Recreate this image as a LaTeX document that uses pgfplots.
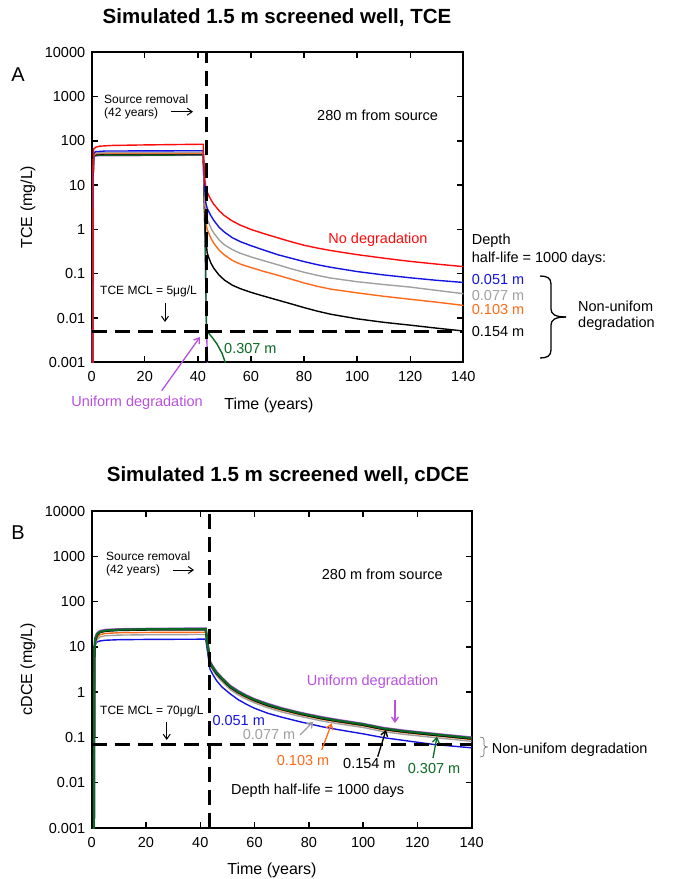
\documentclass[border=0pt]{standalone}
\usepackage{fontspec}
\setmainfont{Liberation Sans}
\usepackage{pgfplots}
\pgfplotsset{compat=1.18}
\usetikzlibrary{arrows.meta}

\definecolor{cred}{RGB}{255,10,10}
\definecolor{cblue}{RGB}{20,20,225}
\definecolor{cgray}{RGB}{160,160,160}
\definecolor{corange}{RGB}{255,105,25}
\definecolor{cgreen}{RGB}{10,105,35}
\definecolor{cpurple}{RGB}{185,80,225}

\newcommand\ft{\bfseries\fontsize{20.5}{24}\selectfont}
\newcommand\fp{\fontsize{20}{24}\selectfont}
\newcommand\fl{\fontsize{16}{19}\selectfont}
\newcommand\fa{\fontsize{14.5}{17}\selectfont}
\newcommand\fs{\fontsize{12}{14}\selectfont}

\tikzset{
  lthin/.style={line width=1.4pt},
  lfat/.style={line width=2.2pt},
  mcl/.style={line width=3pt, dash pattern=on 15pt off 8pt, black},
}
\pgfplotsset{
  myaxis/.style={
    scale only axis, anchor=south west,
    xmin=0, xmax=140, ymin=0.001, ymax=10000,
    xtick={0,20,40,60,80,100,120,140},
    xticklabels={0,20,40,60,80,100,120,140},
    ytick={0.001,0.01,0.1,1,10,100,1000,10000},
    yticklabels={0.001,0.01,0.1,1,10,100,1000,10000},
    yminorticks=false, tick align=inside, major tick length=6pt,
    axis line style={line width=2pt},
    every tick/.style={black, line width=1.4pt},
    tick label style={font=\fa},
    yticklabel style={xshift=-3pt},
    xticklabel style={yshift=-6pt},
  },
}

\begin{document}
\begin{tikzpicture}
\path[use as bounding box] (0,0) rectangle (676pt,-879pt);

% ---------- panel A: TCE ----------
\begin{axis}[ymode=log, myaxis, at={(91.7pt,-362.3pt)}, width=371.6pt, height=310pt]
\addplot[cpurple, lthin] coordinates {(0,1e-4) (0.35,1e-3) (0.5,10) (0.7,40) (1,46) (42,47.5) (42.3,10) (42.8,0.3) (43.2,0.006) (43.5,0.002) (43.7,0.0005)};
\addplot[cgreen, lthin] coordinates {(0,1e-4) (0.35,1e-3) (0.5,10) (0.7,40) (1,46) (3,47.5) (42,48) (42.3,10) (42.8,0.3) (43.1,0.02) (43.3,0.0052) (44,0.0046) (45.3,0.0037) (47.2,0.0026) (49.1,0.0016) (50.3,0.001) (51,0.0007)};
\addplot[black, lthin] coordinates {(0,1e-4) (0.35,1e-3) (0.5,12) (0.8,45) (1.5,49) (5,50.5) (42,51) (42.2,20) (42.6,2) (43,0.6) (43.5,0.3) (44,0.24) (45,0.17) (46,0.133) (48,0.093) (50,0.072) (53,0.055) (56,0.046) (60,0.038) (65,0.031) (70,0.0255) (75,0.021) (80,0.0172) (85,0.0143) (90,0.0122) (100,0.0096) (110,0.008) (120,0.0069) (130,0.0059) (140,0.0051)};
\addplot[corange, lthin] coordinates {(0,1e-4) (0.35,1e-3) (0.5,13) (0.8,47) (1.5,51) (5,52.5) (42,53) (42.2,25) (42.6,4) (43,1.5) (43.5,1.0) (44,0.85) (45,0.62) (46,0.49) (48,0.34) (50,0.265) (53,0.2) (56,0.165) (60,0.138) (65,0.112) (70,0.093) (75,0.076) (80,0.062) (85,0.052) (90,0.045) (100,0.037) (110,0.031) (120,0.0265) (130,0.0228) (140,0.0193)};
\addplot[cgray, lthin] coordinates {(0,1e-4) (0.35,1e-3) (0.5,14) (0.8,49) (1.5,53) (5,54.5) (42,55) (42.2,28) (42.6,6) (43,2.3) (43.5,1.7) (44,1.45) (45,1.05) (46,0.83) (48,0.58) (50,0.45) (53,0.35) (56,0.29) (60,0.24) (65,0.195) (70,0.16) (75,0.13) (80,0.108) (85,0.092) (90,0.08) (100,0.066) (110,0.057) (120,0.05) (130,0.042) (140,0.0355)};
\addplot[cblue, lthin] coordinates {(0,1e-4) (0.35,1e-3) (0.5,15) (0.8,53) (1.5,57) (5,59) (42,60) (42.2,30) (42.6,8) (43,4) (43.5,3.0) (44,2.6) (45,2.0) (46,1.6) (48,1.12) (50,0.87) (53,0.65) (56,0.53) (60,0.43) (65,0.34) (70,0.27) (75,0.225) (80,0.188) (85,0.16) (90,0.14) (100,0.112) (110,0.094) (120,0.081) (130,0.071) (140,0.0636)};
\addplot[cred, lthin] coordinates {(0,1e-4) (0.35,1e-3) (0.5,20) (0.8,66) (1.5,72) (3,76) (8,79) (20,81) (42,84) (42.2,40) (42.5,15) (43,9) (43.5,7.1) (44,6.0) (45,4.6) (46,3.7) (48,2.65) (50,2.05) (53,1.55) (56,1.25) (60,1.0) (65,0.8) (70,0.65) (75,0.53) (80,0.44) (85,0.38) (90,0.335) (100,0.27) (110,0.225) (120,0.19) (130,0.165) (140,0.145)};
\addplot[mcl] coordinates {(43.3,0.001) (43.3,10000)};
\addplot[mcl] coordinates {(0,0.005) (140,0.005)};
\end{axis}

% ---------- panel B: cDCE ----------
\begin{axis}[ymode=log, myaxis, at={(91.7pt,-828pt)}, width=380pt, height=317pt]
\addplot[cpurple, lfat] coordinates {(0,1e-4) (0.8,1e-3) (1.0,8.5) (1.3,16) (2,20) (3,22.5) (5,23.8) (10,24.6) (20,25) (42,25.5) (43.6,4.7) (44.7,3.65) (46,2.8) (48,2.07) (51,1.39) (54,1.06) (57,0.85) (60,0.7) (65,0.55) (70,0.445) (77,0.35) (85,0.28) (91,0.243) (100,0.2) (107.5,0.163) (115,0.142) (126,0.121) (140,0.1)};
\addplot[cblue, lthin] coordinates {(0,1e-4) (0.8,1e-3) (1.0,9.5) (1.5,12) (2,12.8) (3,13.5) (5,14) (10,14.4) (20,14.6) (42,14.8) (43.6,3.2) (44.7,2.4) (46,1.8) (48,1.3) (51,0.92) (54,0.68) (57,0.54) (60,0.44) (65,0.34) (70,0.28) (77,0.22) (85,0.172) (91,0.148) (100,0.12) (107.5,0.099) (115,0.086) (126,0.07) (140,0.059)};
\addplot[cgray, lthin] coordinates {(0,1e-4) (0.8,1e-3) (1.0,6) (1.3,11) (2,14.5) (3,16.5) (5,17.6) (10,18.2) (20,18.5) (42,18.8) (43.6,3.9) (44.7,3.0) (46,2.3) (48,1.7) (51,1.14) (54,0.87) (57,0.7) (60,0.58) (65,0.45) (70,0.365) (77,0.29) (85,0.23) (91,0.2) (100,0.166) (107.5,0.134) (115,0.117) (126,0.1) (140,0.082)};
\addplot[corange, lthin] coordinates {(0,1e-4) (0.8,1e-3) (1.0,6.5) (1.3,12) (2,16) (3,18.5) (5,19.8) (10,20.5) (20,20.8) (42,21) (43.6,4.2) (44.7,3.25) (46,2.5) (48,1.86) (51,1.25) (54,0.95) (57,0.76) (60,0.63) (65,0.49) (70,0.4) (77,0.316) (85,0.251) (91,0.219) (100,0.181) (107.5,0.147) (115,0.128) (126,0.11) (140,0.09)};
\addplot[black, lfat] coordinates {(0,1e-4) (0.8,1e-3) (1.0,7.5) (1.3,14) (2,18.5) (3,21) (5,22.5) (10,23.5) (20,24) (42,24.3) (43.6,4.35) (44.7,3.4) (46,2.6) (48,1.94) (51,1.3) (54,0.99) (57,0.8) (60,0.66) (65,0.51) (70,0.42) (77,0.33) (85,0.262) (91,0.228) (100,0.189) (107.5,0.153) (115,0.134) (126,0.114) (140,0.094)};
\addplot[cgreen, lfat] coordinates {(0,1e-4) (0.8,1e-3) (1.0,8) (1.3,15) (2,19) (3,21.5) (5,23) (10,24) (20,24.5) (42,25) (43.6,4.5) (44.7,3.5) (46,2.7) (48,2.0) (51,1.34) (54,1.02) (57,0.82) (60,0.68) (65,0.53) (70,0.43) (77,0.34) (85,0.27) (91,0.235) (100,0.195) (107.5,0.158) (115,0.138) (126,0.118) (140,0.097)};
\addplot[mcl] coordinates {(43.3,0.001) (43.3,10000)};
\addplot[mcl] coordinates {(0,0.07) (140,0.07)};
\end{axis}

\begin{scope}[x=1pt, y=-1pt, >={Straight Barb[length=5pt,width=7pt]}]
% titles, panel letters, axis labels
\node[font=\ft] at (277,18) {Simulated 1.5 m screened well, TCE};
\node[font=\ft] at (288,476) {Simulated 1.5 m screened well, cDCE};
\node[font=\fp] at (18,75) {A};
\node[font=\fp] at (18,533) {B};
\node[font=\fl, rotate=90] at (28,207) {TCE (mg/L)};
\node[font=\fl, rotate=90] at (28,669) {cDCE (mg/L)};
\node[font=\fl] at (269,405) {Time (years)};
\node[font=\fl] at (272,870) {Time (years)};

% panel A notes
\node[font=\fs, anchor=west, inner sep=0] at (104,99.3) {Source removal};
\node[font=\fs, anchor=west, inner sep=0] at (104,113) {(42 years)};
\draw[->, line width=1pt] (171,111.7) -- (193,111.7);
\node[font=\fa, anchor=west, inner sep=0] at (317,115) {280 m from source};
\node[font=\fa, text=cred] at (378,240) {No degradation};
\node[font=\fa, anchor=west, inner sep=0] at (471.7,241) {Depth};
\node[font=\fa, anchor=west, inner sep=0] at (471.7,258.3) {half-life = 1000 days:};
\node[font=\fa, anchor=west, inner sep=0, text=cblue] at (471.7,280) {0.051 m};
\node[font=\fa, anchor=west, inner sep=0, text=cgray] at (471.7,295.7) {0.077 m};
\node[font=\fa, anchor=west, inner sep=0, text=corange] at (471.7,310) {0.103 m};
\node[font=\fa, anchor=west, inner sep=0] at (471.7,331.7) {0.154 m};
\draw[line width=1.3pt] (540,276) .. controls (547,276) and (551,278) .. (551,284) -- (551,309) .. controls (551,314) and (555,317) .. (566,317);
\draw[line width=1.3pt] (540,358) .. controls (547,358) and (551,356) .. (551,350) -- (551,325) .. controls (551,320) and (555,317) .. (566,317);
\node[font=\fa, anchor=west, inner sep=0] at (578,306.7) {Non-unifom};
\node[font=\fa, anchor=west, inner sep=0] at (578,324) {degradation};
\node[font=\fa, anchor=west, inner sep=0, text=cgreen] at (224,348.3) {0.307 m};
\node[font=\fs, anchor=west, inner sep=0] at (100,291.7) {TCE MCL = 5μg/L};
\draw[->, line width=1pt] (165,303) -- (165,322);
\draw[->, line width=1.3pt, cpurple] (161.7,390.7) -- (200,337);
\node[font=\fa, text=cpurple] at (137,402.7) {Uniform degradation};

% panel B notes
\node[font=\fs, anchor=west, inner sep=0] at (106,556.7) {Source removal};
\node[font=\fs, anchor=west, inner sep=0] at (106,570.7) {(42 years)};
\draw[->, line width=1pt] (172.7,570) -- (194,570);
\node[font=\fa, anchor=west, inner sep=0] at (321.7,574.3) {280 m from source};
\node[font=\fs, anchor=west, inner sep=0] at (100,711.7) {TCE MCL = 70μg/L};
\draw[->, line width=1pt] (166.7,721.7) -- (166.7,740);
\node[font=\fa, anchor=west, inner sep=0, text=cblue] at (212.3,720) {0.051 m};
\node[font=\fa, anchor=west, inner sep=0, text=cgray] at (242.7,734.3) {0.077 m};
\draw[->, line width=1.3pt, cgray] (300,735) -- (313.3,721.7);
\node[font=\fa, anchor=west, inner sep=0, text=corange] at (276.7,760) {0.103 m};
\draw[->, line width=1.3pt, corange] (321.7,750) -- (331.7,723.3);
\node[font=\fa, anchor=west, inner sep=0] at (343,763) {0.154 m};
\draw[->, line width=1.3pt] (377.7,756.7) -- (386,730);
\node[font=\fa, anchor=west, inner sep=0, text=cgreen] at (407.7,768) {0.307 m};
\draw[->, line width=1.3pt, cgreen] (433,758) -- (437,736.7);
\node[font=\fa, anchor=west, inner sep=0, text=cpurple] at (306.7,681.7) {Uniform degradation};
\draw[->, line width=1.3pt, cpurple] (395,700) -- (395,723);
\node[font=\fa, anchor=west, inner sep=0] at (231,790.7) {Depth half-life = 1000 days};
\draw[line width=0.6pt, black!60] (480,737) .. controls (483,737) and (484,738) .. (484,740) -- (484,745) .. controls (484,746) and (485,747) .. (487.5,747);
\draw[line width=0.6pt, black!60] (480,757) .. controls (483,757) and (484,756) .. (484,754) -- (484,749) .. controls (484,748) and (485,747) .. (487.5,747);
\node[font=\fa, anchor=west, inner sep=0] at (491.7,750) {Non-unifom degradation};
\end{scope}
\end{tikzpicture}
\end{document}
